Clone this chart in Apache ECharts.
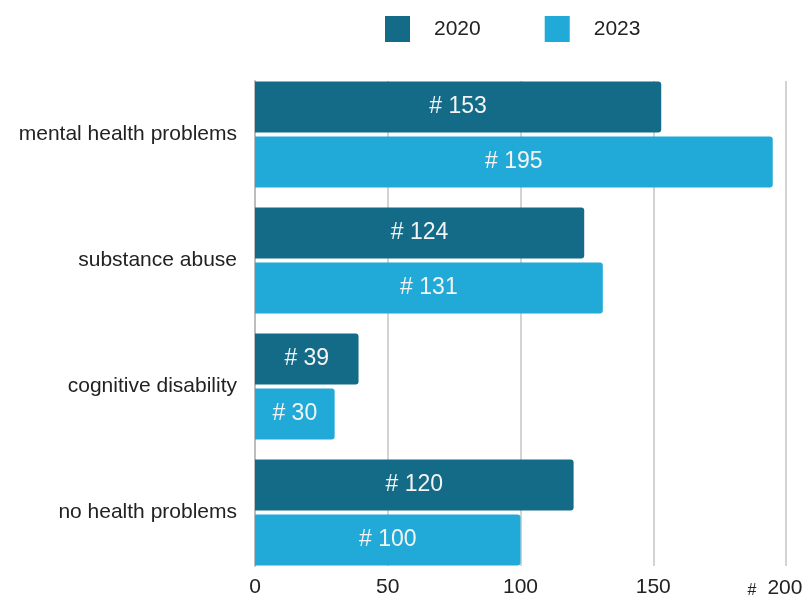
<!DOCTYPE html>
<html>
<head>
<meta charset="utf-8">
<script src="https://cdn.jsdelivr.net/npm/echarts@6/dist/echarts.min.js"></script>
<style>html,body{margin:0;padding:0;background:#fff}#c{width:808px;height:599px}</style>
</head>
<body>
<div id="c"></div>
<script>
const categories = ['mental health problems', 'substance abuse', 'cognitive disability', 'no health problems'];
const seriesNames = ['2020', '2023'];
const values2020 = [153, 124, 39, 120];
const values2023 = [195, 131, 30, 100];
const xTicks = [0, 50, 100, 150, 200];

const colors = ['#136b87', '#21aad7'];
const chart = echarts.init(document.getElementById('c'));
const FONT = 'Liberation Sans, Arial, sans-serif';
const labelStyle = {
  show: true, position: 'inside', color: '#f4f4f4', fontSize: 23, fontFamily: FONT,
  formatter: p => '# ' + p.value
};
const xMin = xTicks[0], xMax = xTicks[xTicks.length - 1];
chart.setOption({
  animation: false,
  textStyle: { fontFamily: FONT },
  legend: {
    data: seriesNames, left: 380, top: 11, itemWidth: 25, itemHeight: 26, itemGap: 64,
    icon: 'rect',
    textStyle: { fontSize: 21, color: '#222', padding: [0, 0, 0, 19] }
  },
  grid: [
    { left: 255, right: 22, top: 71.5, bottom: 23.5, containLabel: false, outerBoundsMode: 'none' },
    { left: 255, right: 22, top: 81, bottom: 33, containLabel: false, outerBoundsMode: 'none' }
  ],
  xAxis: [
    { type: 'value', gridIndex: 0, min: xMin, max: xMax, interval: 50,
      axisLine: { show: false }, axisTick: { show: false }, axisLabel: { show: false },
      splitLine: { show: false } },
    { type: 'value', gridIndex: 1, min: xMin, max: xMax, interval: 50,
      axisLine: { show: false }, axisTick: { show: false },
      splitLine: { show: true, lineStyle: { color: '#d3d3d3', width: 2 } },
      axisLabel: {
        fontSize: 21, color: '#222', margin: 11,
        formatter: v => v === 200 ? '{h|#}{s|}{v|200}{p|}' : String(v),
        rich: {
          h: { fontSize: 16, color: '#222', verticalAlign: 'bottom', padding: [6, 0, 0, 0] },
          s: { width: 11 },
          v: { fontSize: 21, color: '#222' },
          p: { width: 22 }
        }
      } }
  ],
  yAxis: [
    { type: 'category', gridIndex: 0, data: categories, inverse: true,
      axisLine: { show: false }, axisTick: { show: false }, splitLine: { show: false },
      axisLabel: { fontSize: 21, color: '#222', margin: 18 } },
    { type: 'category', gridIndex: 1, data: categories, inverse: true,
      axisLine: { show: true, lineStyle: { color: '#bdbdbd', width: 2 } },
      axisTick: { show: false }, splitLine: { show: false }, axisLabel: { show: false } }
  ],
  series: [
    { name: seriesNames[0], type: 'bar', xAxisIndex: 0, yAxisIndex: 0, data: values2020,
      barWidth: 51, barGap: '8%', z: 3,
      itemStyle: { color: colors[0], borderRadius: [0, 3, 3, 0] }, label: labelStyle },
    { name: seriesNames[1], type: 'bar', xAxisIndex: 0, yAxisIndex: 0, data: values2023,
      barWidth: 51, barGap: '8%', z: 3,
      itemStyle: { color: colors[1], borderRadius: [0, 3, 3, 0] }, label: labelStyle }
  ]
});
</script>
</body>
</html>
